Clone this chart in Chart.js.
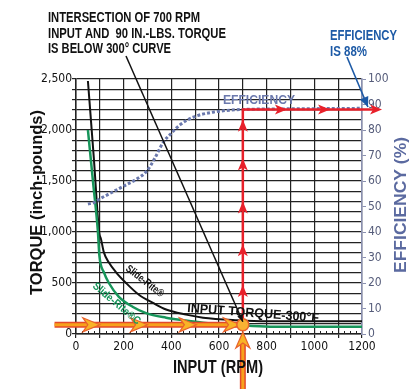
<!DOCTYPE html>
<html><head><meta charset="utf-8">
<script src="https://cdn.jsdelivr.net/npm/chart.js@4.4.1/dist/chart.umd.min.js"></script>
<style>html,body{margin:0;padding:0;background:#fff;overflow:hidden}#wrap{width:411px;height:389px}</style>
</head><body><div id="wrap"><canvas id="c" width="411" height="389"></canvas></div>
<script>
// ---- data ----
const rpmBlack    = [50, 75, 97, 105, 117, 138, 168, 210, 264, 323, 378, 462, 533, 676, 800, 1000, 1200];
const torqueBlack = [2480, 1720, 1000, 930, 800, 700, 605, 500, 385, 305, 240, 190, 160, 135, 125, 125, 125];
const rpmGreen    = [50, 72, 92, 98, 118, 138, 180, 239, 294, 378, 449, 533, 676, 814, 1000, 1200];
const torqueGreen = [2000, 1480, 1000, 770, 600, 500, 365, 265, 205, 160, 135, 110, 88, 72, 70, 70];
const rpmEff      = [50, 75, 100, 150, 200, 250, 298, 331, 365, 403, 436, 491, 575, 688, 900, 1200];
const effPct      = [51, 51.5, 53, 55.5, 58, 60.5, 64, 69, 75, 79, 82, 85, 87, 88, 88.3, 88.5];
const xTickLabels = [0, 200, 400, 600, 800, 1000, 1200];
const yTickLabels = [0, 500, 1000, 1500, 2000, 2500];
const inputRpm = 700, inputTorque = 90, efficiencyAt = 88;
const redUpArrowTorques = [480, 880, 1300, 1720, 2100];
const redRightArrowRpms = [885, 1066, 1284];
const orangeStartRpm = -90;
const orangeArrowRpms = [100, 300, 505, 690];
const yellowUpFromTorque = -700, yellowUpTipTorque = 20;
const leaderEnd = [700, 120];      // black leader from note to intersection
const blueLeaderEnd = [1225, 89];  // blue leader to efficiency (rpm, %)

const COND = "'Liberation Sans Narrow','DejaVu Sans Condensed','Arial Narrow','Liberation Sans',sans-serif";

function pts(xs, ys){ return xs.map((x,i)=>({x, y: ys[i]})); }

function fitText(ctx, txt, x, y, w, size, color, rot){
  ctx.save();
  ctx.font = `bold ${size}px 'Liberation Sans', Arial, sans-serif`;
  const m = ctx.measureText(txt).width;
  ctx.translate(x, y);
  if (rot) ctx.rotate(rot);
  ctx.scale(w / m, 1);
  ctx.fillStyle = color; ctx.textAlign = 'left'; ctx.textBaseline = 'alphabetic';
  ctx.fillText(txt, 0, 0);
  ctx.restore();
}
function head(ctx, x, y, ang, len, hw, fill, stroke, notch){
  ctx.save(); ctx.translate(x, y); ctx.rotate(ang);
  ctx.beginPath(); ctx.moveTo(0,0); ctx.lineTo(-len,-hw); ctx.lineTo(-len+(notch||0),0); ctx.lineTo(-len,hw); ctx.closePath();
  ctx.fillStyle = fill; ctx.fill();
  if (stroke){ ctx.strokeStyle = stroke; ctx.lineWidth = 1.2; ctx.stroke(); }
  ctx.restore();
}

const deco = {
  id: 'deco',
  afterDraw(chart){
    const ctx = chart.ctx, X = chart.scales.x, Y = chart.scales.y, E = chart.scales.y2;
    const ca = chart.chartArea;
    // minor ticks on x axis
    ctx.save(); ctx.strokeStyle = '#222'; ctx.lineWidth = 1;
    for (let v = 25; v < 1200; v += 25){ if (v % 100 === 0) continue;
      const px = Math.round(X.getPixelForValue(v)) + 0.5;
      ctx.beginPath(); ctx.moveTo(px, ca.bottom); ctx.lineTo(px, ca.bottom - 3); ctx.stroke(); }
    ctx.restore();

    const ix = X.getPixelForValue(inputRpm), iy = Y.getPixelForValue(inputTorque);
    const ey = E.getPixelForValue(efficiencyAt);
    // red path
    ctx.save();
    ctx.strokeStyle = '#e8202a'; ctx.lineWidth = 2.5; ctx.lineJoin = 'miter';
    const rx = X.getPixelForValue(redRightArrowRpms[redRightArrowRpms.length-1]);
    ctx.beginPath(); ctx.moveTo(ix, iy); ctx.lineTo(ix, ey); ctx.lineTo(rx - 4, ey); ctx.stroke();
    redUpArrowTorques.forEach(t => head(ctx, ix, Y.getPixelForValue(t), -Math.PI/2, 12, 5, '#e8202a', null, 3));
    redRightArrowRpms.forEach(r => head(ctx, X.getPixelForValue(r), ey, 0, 12, 5, '#e8202a', null, 3));
    ctx.restore();

    // orange horizontal arrows
    ctx.save();
    const ox0 = X.getPixelForValue(orangeStartRpm);
    ctx.lineCap = 'butt';
    ctx.strokeStyle = '#e4492a'; ctx.lineWidth = 6;
    ctx.beginPath(); ctx.moveTo(ox0, iy); ctx.lineTo(ix, iy); ctx.stroke();
    ctx.strokeStyle = '#f7a21b'; ctx.lineWidth = 3;
    ctx.beginPath(); ctx.moveTo(ox0, iy); ctx.lineTo(ix, iy); ctx.stroke();
    orangeArrowRpms.forEach(r => head(ctx, X.getPixelForValue(r), iy, 0, 17, 7, '#f8b426', '#e8612c', 5));
    // yellow vertical arrow
    const vy0 = Y.getPixelForValue(yellowUpFromTorque), vtip = Y.getPixelForValue(yellowUpTipTorque);
    ctx.strokeStyle = '#e4492a'; ctx.lineWidth = 6;
    ctx.beginPath(); ctx.moveTo(ix, vy0); ctx.lineTo(ix, vtip + 10); ctx.stroke();
    ctx.strokeStyle = '#f7a21b'; ctx.lineWidth = 3;
    ctx.beginPath(); ctx.moveTo(ix, vy0); ctx.lineTo(ix, vtip + 10); ctx.stroke();
    head(ctx, ix, vtip, -Math.PI/2, 16, 7, '#f8b426', '#e8612c', 5);
    // circle
    ctx.beginPath(); ctx.arc(ix, iy, 6, 0, Math.PI*2);
    ctx.fillStyle = '#f9b233'; ctx.fill(); ctx.strokeStyle = '#e8612c'; ctx.lineWidth = 1.5; ctx.stroke();
    ctx.restore();

    // black leader
    ctx.save();
    const lx = X.getPixelForValue(leaderEnd[0]), ly = Y.getPixelForValue(leaderEnd[1]);
    ctx.strokeStyle = '#111'; ctx.lineWidth = 1.5;
    ctx.beginPath(); ctx.moveTo(126, 56); ctx.lineTo(lx, ly); ctx.stroke();
    head(ctx, lx, ly, Math.atan2(ly-56, lx-126), 7, 3, '#111');
    // blue leader
    const bx = X.getPixelForValue(blueLeaderEnd[0]), by = E.getPixelForValue(blueLeaderEnd[1]);
    ctx.strokeStyle = '#1d5aa6'; ctx.lineWidth = 1.6;
    ctx.beginPath(); ctx.moveTo(347, 57); ctx.lineTo(bx, by); ctx.stroke();
    head(ctx, bx, by, Math.atan2(by-57, bx-347), 10, 4.5, '#1d5aa6');
    ctx.restore();

    // texts
    fitText(ctx, 'INTERSECTION OF 700 RPM', 48, 22, 152, 14, '#111');
    fitText(ctx, 'INPUT AND  90 IN.-LBS. TORQUE', 48, 38, 178, 14, '#111');
    fitText(ctx, 'IS BELOW 300° CURVE', 48, 53, 123, 14, '#111');
    fitText(ctx, 'EFFICIENCY', 330, 40, 67, 14, '#1d5aa6');
    fitText(ctx, 'IS 88%', 330, 56, 37, 14, '#1d5aa6');
    fitText(ctx, 'INPUT (RPM)', 173, 373, 90, 18, '#111');
    fitText(ctx, 'TORQUE (inch-pounds)', 42, 295, 185, 17, '#111', -Math.PI/2);
    fitText(ctx, 'EFFICIENCY (%)', 406, 273, 136, 17, '#5b6aa0', -Math.PI/2);
    fitText(ctx, 'EFFICIENCY', 223, 104, 72, 13, '#6b79ad');
    fitText(ctx, 'INPUT TORQUE-300°F', 187, 312, 132, 13, '#111', Math.atan2(10, 131));
    fitText(ctx, 'Slide-Rite®', 125, 270, 45, 11, '#111', Math.atan2(27, 35));
    fitText(ctx, 'Slide-Rite®C', 92, 287, 59, 11, '#17955a', Math.atan2(38, 45));
  }
};

new Chart(document.getElementById('c'), {
  type: 'line',
  data: { datasets: [
    { data: pts(rpmEff, effPct), yAxisID: 'y2', borderColor: '#6b79ad', borderWidth: 3, borderDash: [3,2], pointRadius: 0, cubicInterpolationMode: 'monotone' },
    { data: pts(rpmGreen, torqueGreen), yAxisID: 'y', borderColor: '#17955a', borderWidth: 2.5, pointRadius: 0, cubicInterpolationMode: 'monotone' },
    { data: pts(rpmBlack, torqueBlack), yAxisID: 'y', borderColor: '#111', borderWidth: 2, pointRadius: 0, cubicInterpolationMode: 'monotone' }
  ]},
  options: {
    responsive: false, animation: false, devicePixelRatio: 1,
    layout: { padding: { top: 79, left: 0, right: 0, bottom: 0 } },
    plugins: { legend: { display: false }, tooltip: { enabled: false } },
    scales: {
      x: { type: 'linear', min: 0, max: 1200,
        ticks: { stepSize: 100, autoSkip: false, maxRotation: 0, padding: 2, color: '#111',
          font: { family: COND, size: 12 }, callback: v => xTickLabels.includes(v) ? String(v) : '' },
        grid: { color: '#222', lineWidth: 1.2, tickLength: 4 }, border: { color: '#222', width: 1.5 },
        afterFit: s => { s.height = 55; } },
      y: { min: 0, max: 2500,
        ticks: { stepSize: 100, autoSkip: false, padding: 0, color: '#111',
          font: { family: COND, size: 12 }, callback: v => yTickLabels.includes(v) ? v.toLocaleString('en-US') : '' },
        grid: { color: '#222', lineWidth: 1.2, tickLength: 4 }, border: { color: '#222', width: 1.5 },
        afterFit: s => { s.width = 76; } },
      y2: { position: 'right', min: 0, max: 100,
        ticks: { stepSize: 10, autoSkip: false, padding: 2, color: '#555c7a', font: { family: COND, size: 12 } },
        grid: { drawOnChartArea: false, color: '#8a90b0', tickLength: 4 }, border: { color: '#8a90b0', width: 1.5 },
        afterFit: s => { s.width = 49; } }
    }
  },
  plugins: [deco]
});
</script></body></html>
